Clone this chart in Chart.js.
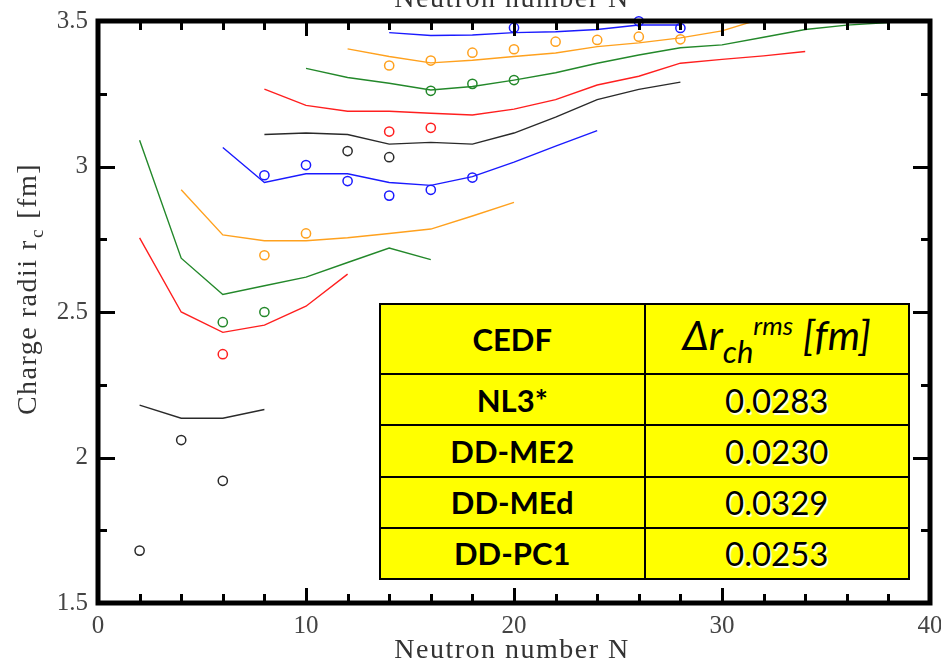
<!DOCTYPE html>
<html>
<head>
<meta charset="utf-8">
<script src="https://cdn.jsdelivr.net/npm/chart.js@4"></script>
<style>
  html, body { margin: 0; padding: 0; background: #fff; }
  #wrap { position: relative; width: 941px; height: 666px; overflow: hidden; }
  #radiiChart { position: absolute; left: 0; top: 0; }

  /* rms deviation table laid over the plot */
  #rmsTable {
    position: absolute; left: 379px; top: 303px; width: 531px; height: 277px;
    border-collapse: collapse; background: #ffff00;
    font-family: Lato, 'Open Sans', sans-serif; color: #000; table-layout: fixed;
  }
  #rmsTable td { border: 2.5px solid #000; text-align: center; padding: 0; }
  #rmsTable .name { font-weight: 700; font-size: 31px; }
  #rmsTable .val  { font-size: 33px; text-shadow: 1.5px 1.5px 1px rgba(255,255,255,.95); }
  #rmsTable .hdr  { font-style: italic; font-size: 41px; white-space: nowrap; line-height: 1; }
  #rmsTable .hdr sub { font-size: 31px; vertical-align: -13px; }
  #rmsTable .hdr sup { font-size: 26px; vertical-align: 15px; }
</style>
</head>
<body>
<div id="wrap">
  <canvas id="radiiChart" width="941" height="666"></canvas>
  <table id="rmsTable">
    <tr style="height:70px"><td class="name">CEDF</td><td class="hdr">Δr<sub>ch</sub><sup>rms</sup> [fm]</td></tr>
    <tr><td class="name">NL3*</td><td class="val">0.0283</td></tr>
    <tr><td class="name">DD-ME2</td><td class="val">0.0230</td></tr>
    <tr><td class="name">DD-MEd</td><td class="val">0.0329</td></tr>
    <tr><td class="name">DD-PC1</td><td class="val">0.0253</td></tr>
  </table>
</div>

<script>
/* ── isotopic chains: calculated radii (lines) and measured radii (circles) ── */
const HE_N = [2, 4, 6, 8];
const HE_R = [2.18, 2.135, 2.135, 2.165];
const HE_EXP_N = [2, 4, 6];
const HE_EXP_R = [1.68, 2.06, 1.92];

const BE_N = [2, 4, 6, 8, 10, 12];
const BE_R = [2.755, 2.50, 2.43, 2.455, 2.52, 2.63];
const BE_EXP_N = [6];
const BE_EXP_R = [2.355];

const C_N = [2, 4, 6, 8, 10, 12, 14, 16];
const C_R = [3.09, 2.685, 2.56, 2.59, 2.62, 2.67, 2.72, 2.68];
const C_EXP_N = [6, 8];
const C_EXP_R = [2.465, 2.50];

const O_N = [4, 6, 8, 10, 12, 14, 16, 18, 20];
const O_R = [2.92, 2.765, 2.745, 2.745, 2.755, 2.77, 2.785, 2.83, 2.877];
const O_EXP_N = [8, 10];
const O_EXP_R = [2.695, 2.77];

const NE_N = [6, 8, 10, 12, 14, 16, 18, 20, 22, 24];
const NE_R = [3.065, 2.945, 2.975, 2.975, 2.945, 2.935, 2.965, 3.015, 3.07, 3.123];
const NE_EXP_N = [8, 10, 12, 14, 16, 18];
const NE_EXP_R = [2.97, 3.005, 2.95, 2.90, 2.92, 2.962];

const MG_N = [8, 10, 12, 14, 16, 18, 20, 22, 24, 26, 28];
const MG_R = [3.11, 3.115, 3.11, 3.077, 3.083, 3.077, 3.115, 3.17, 3.23, 3.265, 3.29];
const MG_EXP_N = [12, 14];
const MG_EXP_R = [3.053, 3.032];

const SI_N = [8, 10, 12, 14, 16, 18, 20, 22, 24, 26, 28, 30, 32, 34];
const SI_R = [3.266, 3.21, 3.19, 3.19, 3.183, 3.177, 3.197, 3.23, 3.28, 3.31, 3.355, 3.368, 3.38, 3.395];
const SI_EXP_N = [14, 16];
const SI_EXP_R = [3.12, 3.133];

const S_N = [10, 12, 14, 16, 18, 20, 22, 24, 26, 28, 30, 32, 34, 36, 38];
const S_R = [3.337, 3.306, 3.286, 3.263, 3.275, 3.297, 3.322, 3.355, 3.383, 3.408, 3.418, 3.444, 3.471, 3.486, 3.495];
const S_EXP_N = [16, 18, 20];
const S_EXP_R = [3.26, 3.284, 3.297];

const AR_N = [12, 14, 16, 18, 20, 22, 24, 26, 28, 30, 32];
const AR_R = [3.404, 3.378, 3.356, 3.365, 3.378, 3.39, 3.412, 3.425, 3.442, 3.466, 3.51];
const AR_EXP_N = [14, 16, 18, 20, 22, 24, 26, 28];
const AR_EXP_R = [3.347, 3.364, 3.391, 3.403, 3.429, 3.435, 3.446, 3.437];

const CA_N = [14, 16, 18, 20, 22, 24, 26, 28];
const CA_R = [3.46, 3.45, 3.452, 3.46, 3.463, 3.471, 3.486, 3.486];
const CA_EXP_N = [20, 26, 28];
const CA_EXP_R = [3.477, 3.499, 3.476];

/* axis ranges and tick labels */
const X_MIN = 0, X_MAX = 40, X_MAJOR = 10, X_MINOR = 2;
const Y_MIN = 1.5, Y_MAX = 3.5, Y_MAJOR = 0.5, Y_MINOR = 0.25;
const Y_LABELS = { 1.5: '1.5', 2: '2', 2.5: '2.5', 3: '3', 3.5: '3.5' };
const X_TITLE = 'Neutron number N';

/* colours */
const BLACK  = '#2a2a2a';
const RED    = '#ff1f1f';
const GREEN  = '#23882a';
const ORANGE = '#ffa11e';
const BLUE   = '#1a1aff';

const SERIF = "'Liberation Serif', 'DejaVu Serif', serif";

const pts = (ns, rs) => ns.map((n, i) => ({ x: n, y: rs[i] }));

const lineSet = (ns, rs, color) => ({
  data: pts(ns, rs), showLine: true, borderColor: color, borderWidth: 1.4,
  pointRadius: 0, tension: 0, fill: false,
});
const circleSet = (ns, rs, color) => ({
  data: pts(ns, rs), showLine: false, borderColor: color, backgroundColor: 'rgba(0,0,0,0)',
  pointStyle: 'circle', pointRadius: 4.6, borderWidth: 1.5, clip: false,
});

const chains = [
  [HE_N, HE_R, HE_EXP_N, HE_EXP_R, BLACK],
  [BE_N, BE_R, BE_EXP_N, BE_EXP_R, RED],
  [C_N,  C_R,  C_EXP_N,  C_EXP_R,  GREEN],
  [O_N,  O_R,  O_EXP_N,  O_EXP_R,  ORANGE],
  [NE_N, NE_R, NE_EXP_N, NE_EXP_R, BLUE],
  [MG_N, MG_R, MG_EXP_N, MG_EXP_R, BLACK],
  [SI_N, SI_R, SI_EXP_N, SI_EXP_R, RED],
  [S_N,  S_R,  S_EXP_N,  S_EXP_R,  GREEN],
  [AR_N, AR_R, AR_EXP_N, AR_EXP_R, ORANGE],
  [CA_N, CA_R, CA_EXP_N, CA_EXP_R, BLUE],
];

const datasets = [];
chains.forEach(([n, r, en, er, c]) => {
  datasets.push(lineSet(n, r, c));
  datasets.push(circleSet(en, er, c));
});

/* frame with inward ticks on all four sides, plus the axis titles */
const framePlugin = {
  id: 'frame',
  afterDatasetsDraw(chart) {
    const { ctx, chartArea: a, scales: { x, y } } = chart;
    ctx.save();
    ctx.strokeStyle = '#000';
    ctx.lineWidth = 5;
    ctx.lineCap = 'square';
    ctx.strokeRect(a.left, a.top, a.right - a.left, a.bottom - a.top);

    ctx.lineWidth = 3;
    ctx.lineCap = 'butt';
    ctx.beginPath();
    for (let v = X_MIN; v <= X_MAX + 1e-9; v += X_MINOR) {
      const px = Math.round(x.getPixelForValue(v)) + 0.5;
      const len = (Math.abs(v % X_MAJOR) < 1e-9) ? 15 : 9;
      ctx.moveTo(px, a.bottom); ctx.lineTo(px, a.bottom - len);
      ctx.moveTo(px, a.top);    ctx.lineTo(px, a.top + len);
    }
    for (let v = Y_MIN; v <= Y_MAX + 1e-9; v += Y_MINOR) {
      const py = Math.round(y.getPixelForValue(v)) + 0.5;
      const major = Math.abs((v - Y_MIN) / Y_MAJOR - Math.round((v - Y_MIN) / Y_MAJOR)) < 1e-9;
      const len = major ? 17 : 9;
      ctx.moveTo(a.left, py);  ctx.lineTo(a.left + len, py);
      ctx.moveTo(a.right, py); ctx.lineTo(a.right - len, py);
    }
    ctx.stroke();

    // axis titles
    ctx.fillStyle = '#333';
    ctx.font = `28px ${SERIF}`;
    ctx.letterSpacing = '1.5px';
    ctx.textAlign = 'center';
    ctx.textBaseline = 'alphabetic';
    ctx.fillText(X_TITLE, 512, 658);
    ctx.fillText(X_TITLE, 512, 7);

    // vertical title with subscript c
    ctx.translate(36, 290);
    ctx.rotate(-Math.PI / 2);
    ctx.textAlign = 'left';
    const main = 'Charge radii r';
    const tail = ' [fm]';
    ctx.font = `28px ${SERIF}`;
    const wMain = ctx.measureText(main).width;
    const wTail = ctx.measureText(tail).width;
    ctx.font = `19px ${SERIF}`;
    const wSub = ctx.measureText('c').width;
    const x0 = -(wMain + wSub + wTail) / 2;
    ctx.font = `28px ${SERIF}`;
    ctx.fillText(main, x0, 0);
    ctx.font = `19px ${SERIF}`;
    ctx.fillText('c', x0 + wMain + 1, 7);
    ctx.font = `28px ${SERIF}`;
    ctx.fillText(tail, x0 + wMain + wSub + 2, 0);
    ctx.restore();
  },
};

new Chart(document.getElementById('radiiChart'), {
  type: 'scatter',
  data: { datasets },
  options: {
    responsive: false,
    animation: false,
    layout: { autoPadding: false, padding: { left: 0, top: 21, right: 11, bottom: 0 } },
    plugins: { legend: { display: false }, tooltip: { enabled: false } },
    scales: {
      x: {
        type: 'linear', min: X_MIN, max: X_MAX,
        grid: { display: false, drawTicks: false },
        border: { display: false },
        ticks: { stepSize: X_MAJOR, padding: 8, color: '#444', font: { family: SERIF, size: 25 } },
        afterFit: s => { s.height = 63; s.paddingLeft = 0; s.paddingRight = 0; },
      },
      y: {
        type: 'linear', min: Y_MIN, max: Y_MAX,
        grid: { display: false, drawTicks: false },
        border: { display: false },
        ticks: {
          stepSize: Y_MAJOR, padding: 10, color: '#444', font: { family: SERIF, size: 25 },
          callback: v => Y_LABELS[v] ?? '',
        },
        afterFit: s => { s.width = 98; s.paddingTop = 0; s.paddingBottom = 0; },
      },
    },
  },
  plugins: [framePlugin],
});
</script>
</body>
</html>
